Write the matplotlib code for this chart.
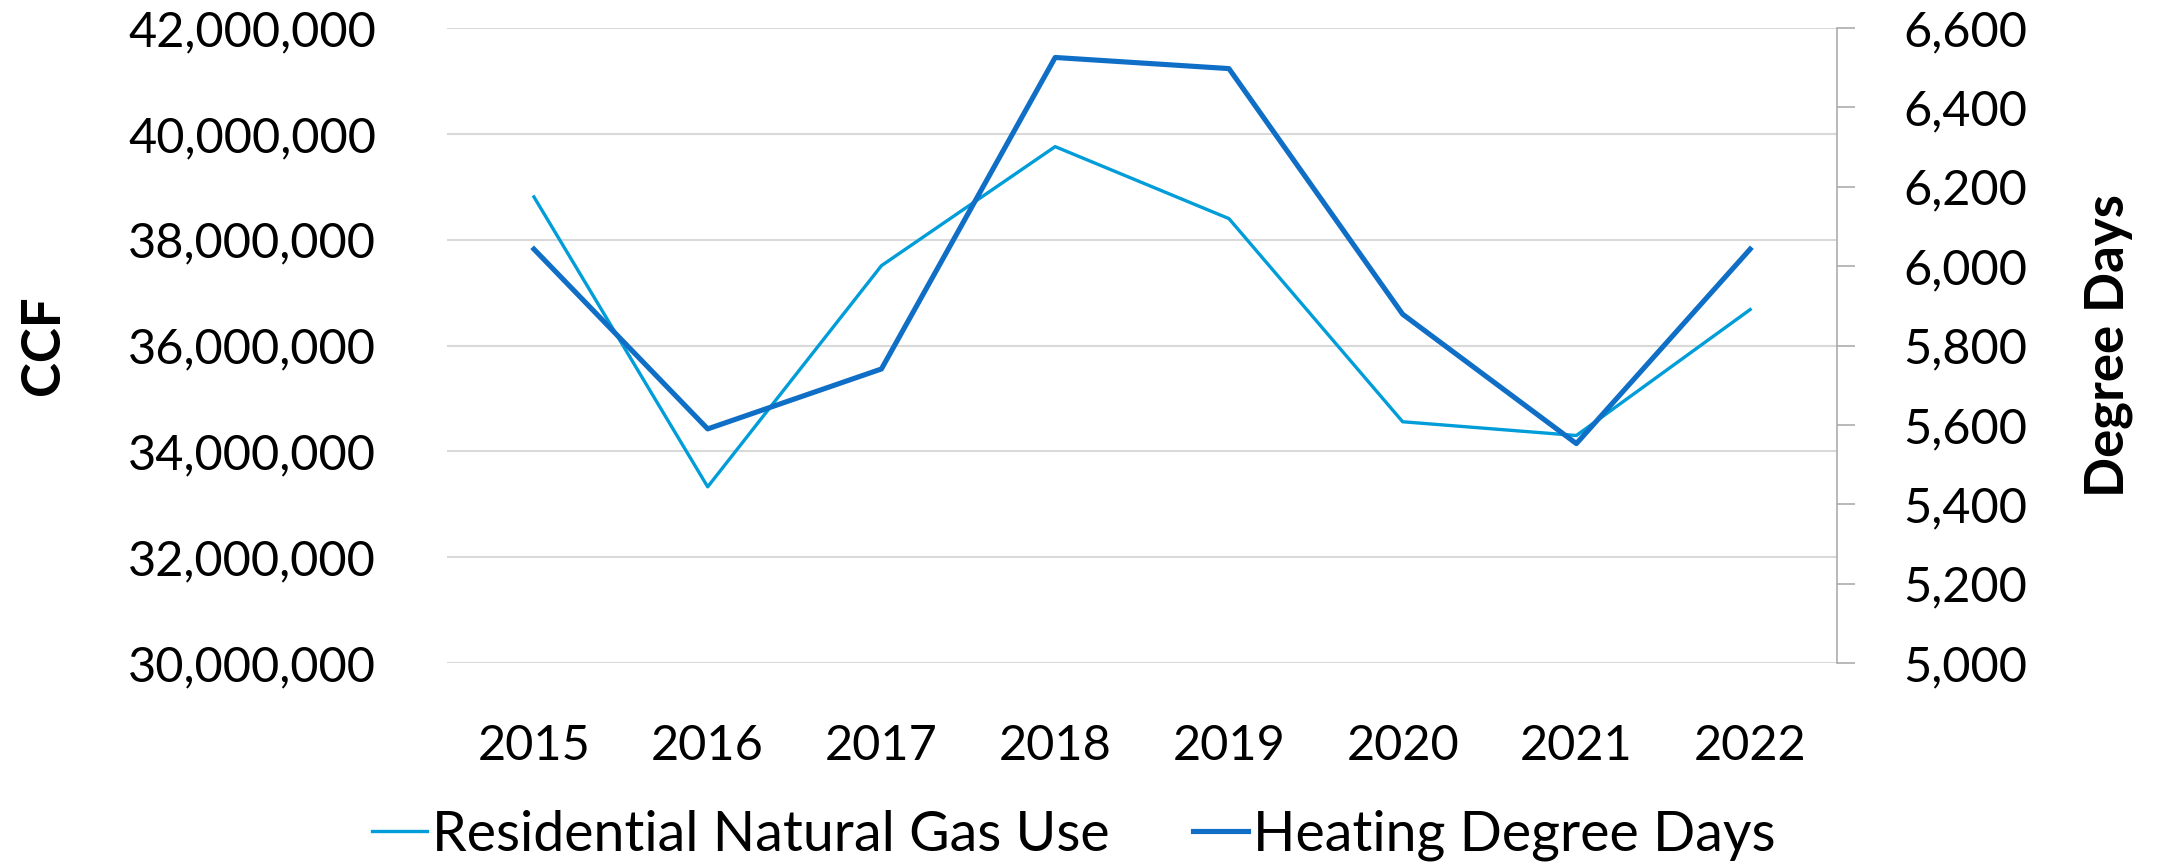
import numpy as np
import matplotlib.pyplot as plt
from matplotlib.ticker import FuncFormatter, MultipleLocator

plt.rcParams['font.family'] = ['Lato', 'DejaVu Sans']

years = ["2015", "2016", "2017", "2018", "2019", "2020", "2021", "2022"]
gas_use = [38810000, 33330000, 37510000, 39760000, 38400000, 34560000, 34300000, 36680000]
degree_days = [6043, 5590, 5741, 6526, 6498, 5879, 5553, 6043]

gas_color = "#009DD9"
hdd_color = "#0F6FC6"

fig = plt.figure(figsize=(21.65, 8.65), dpi=100)
ax = fig.add_axes([0.2065, 0.2335, 0.642, 0.734])
ax2 = ax.twinx()

x = np.arange(len(years))
l1, = ax.plot(x, gas_use, color=gas_color, lw=2.4, label="Residential Natural Gas Use")
l2, = ax2.plot(x, degree_days, color=hdd_color, lw=3.7, label="Heating Degree Days")

ax.set_xlim(-0.5, len(years) - 0.5)
ax.set_ylim(30000000, 42000000)
ax.yaxis.set_major_locator(MultipleLocator(2000000))
ax2.set_ylim(5000, 6600)
ax2.yaxis.set_major_locator(MultipleLocator(200))

fmt = FuncFormatter(lambda v, p: f"{v:,.0f}")
ax.yaxis.set_major_formatter(fmt)
ax2.yaxis.set_major_formatter(fmt)

ax.grid(axis="y", color="#D9D9D9", lw=1.5)
ax.set_axisbelow(True)
for s in ["top", "left", "right", "bottom"]:
    ax.spines[s].set_visible(False)
for s in ["top", "left", "bottom"]:
    ax2.spines[s].set_visible(False)
ax2.spines["right"].set_color("#A6A6A6")
ax2.spines["right"].set_linewidth(1.1)

ax.set_xticks(x)
ax.set_xticklabels(years)
ax.tick_params(axis="x", length=0, labelsize=35, pad=44)
ax.tick_params(axis="y", length=0, labelsize=35, pad=51)
ax2.tick_params(axis="y", length=13, width=1.1, color="#A6A6A6", labelsize=35, pad=35)

ax.set_ylabel("CCF", fontsize=38, fontweight="bold")
ax.yaxis.set_label_coords(-0.2727, 0.5)
ax2.set_ylabel("Degree Days", fontsize=38, fontweight="bold")
ax2.yaxis.set_label_coords(1.178, 0.5)

fig.legend(handles=[l1, l2], loc="center", bbox_to_anchor=(0.4958, 0.034), ncol=2,
           frameon=False, fontsize=40, handlelength=1.0, handletextpad=0.08,
           columnspacing=1.5)

fig.savefig("out.png", dpi=100)
